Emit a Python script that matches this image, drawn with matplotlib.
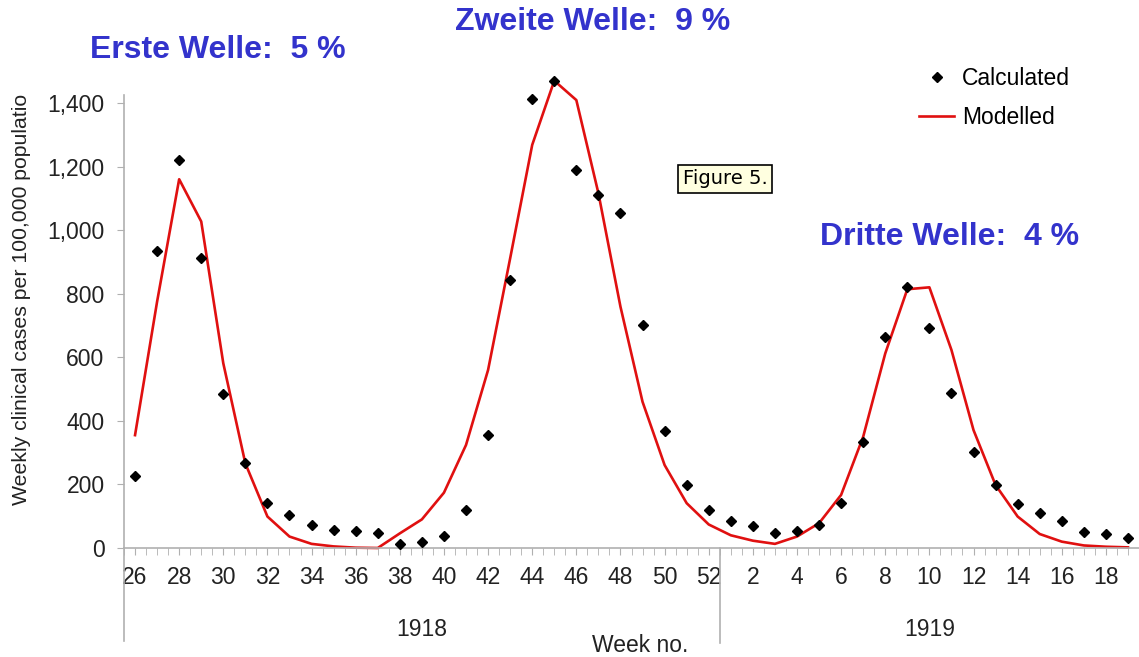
import matplotlib
matplotlib.use("Agg")
from matplotlib import pyplot as plt
from matplotlib.transforms import Bbox, blended_transform_factory

# weekly data, 1918 week 26 .. 1919 week 19
weeks = [26, 27, 28, 29, 30, 31, 32, 33, 34, 35, 36, 37, 38, 39, 40, 41, 42, 43, 44,
         45, 46, 47, 48, 49, 50, 51, 52,
         1, 2, 3, 4, 5, 6, 7, 8, 9, 10, 11, 12, 13, 14, 15, 16, 17, 18, 19]
calculated = [226, 935, 1220, 911, 483, 268, 143, 105, 72, 57, 53, 48, 13, 18, 39, 120,
              356, 843, 1412, 1470, 1189, 1110, 1053, 701, 367, 198, 120,
              86, 68, 47, 55, 72, 143, 332, 665, 820, 693, 487, 301, 197, 137, 109,
              86, 51, 43, 30]
modelled = [355, 775, 1160, 1027, 581, 266, 99, 36, 13, 5, 1, 0, 46, 90, 174, 324,
            560, 911, 1268, 1470, 1409, 1116, 759, 460, 261, 141, 74,
            40, 23, 13, 36, 78, 167, 350, 612, 814, 820, 623, 371, 198, 99, 44,
            20, 8, 4, 2]
years = ["1918", "1919"]
waves = ["Erste Welle:  5 %", "Zweite Welle:  9 %", "Dritte Welle:  4 %"]

plt.rcParams['font.family'] = ['Liberation Sans', 'DejaVu Sans']

W, H = 1139, 657
fig = plt.figure(figsize=(W / 100, H / 100), dpi=100)
ax = fig.add_axes([124 / W, 1 - 548 / H, 1 - 124 / W, (548 - 95) / H])

x = list(range(len(weeks)))
line_mod, = ax.plot(x, modelled, color="#e01010", lw=1.9, clip_on=False,
                    label="Modelled", zorder=2)
line_calc, = ax.plot(x, calculated, "D", color="black", ms=5.2, clip_on=False,
                     label="Calculated", zorder=3)

ax.set_xlim(-0.5, 44.95)
ax.set_ylim(0, 1425)

grey = "#b0b0b0"
for s in ["top", "right"]:
    ax.spines[s].set_visible(False)
ax.spines["left"].set_color(grey)
ax.spines["bottom"].set_color(grey)
ax.spines["left"].set_linewidth(1.2)
ax.spines["bottom"].set_linewidth(1.2)

ax.set_yticks([0, 200, 400, 600, 800, 1000, 1200, 1400])
ax.set_yticklabels(["0", "200", "400", "600", "800", "1,000", "1,200", "1,400"])
ax.tick_params(axis="y", length=5, color=grey, pad=9, labelsize=16.5, labelcolor="#222222")

even = [i for i, w in enumerate(weeks) if w % 2 == 0]
ax.set_xticks(even)
ax.set_xticklabels([str(weeks[i]) for i in even])
ax.set_xticks([i * 0.5 - 0.5 for i in range(2 * len(weeks) + 1)], minor=True)
ax.tick_params(axis="x", which="both", length=5, color=grey, pad=8, labelsize=16.5,
               labelcolor="#222222")

# year group separators
split = weeks.index(1) - 0.5
ax.axvline(-0.5, ymin=-0.205, ymax=0, color=grey, lw=1.2, clip_on=False)
ax.axvline(split, ymin=-0.21, ymax=0, color=grey, lw=1.2, clip_on=False)
tr = blended_transform_factory(ax.transData, ax.transAxes)
ax.text(split / 2 - 0.25, -0.18, years[0], transform=tr, ha="center", va="center",
        fontsize=16.5, color="#222222")
ax.text(36, -0.18, years[1], transform=tr, ha="center", va="center",
        fontsize=16.5, color="#222222")
fig.text(640 / W, 1 - 645 / H, "Week no.", ha="center", va="center", fontsize=16.5,
         color="#222222")

ylab = fig.text(22 / W, 1 - 505 / H, "Weekly clinical cases per 100,000 population",
                rotation=90, ha="center", va="bottom", fontsize=15.3, color="#222222")
ylab.set_clip_box(Bbox([[0, 0], [W, H - 95]]))
ylab.set_clip_on(True)

ax.legend(handles=[line_calc, line_mod], loc="upper left",
          bbox_to_anchor=(908 / W, 1 - 56 / H), bbox_transform=fig.transFigure,
          frameon=False, fontsize=16.5, handlelength=1.5, handletextpad=0.35,
          labelspacing=0.7, borderpad=0)

fig.text(725 / W, 1 - 179 / H, "Figure 5.", ha="center", va="center", fontsize=14,
         family="DejaVu Sans",
         bbox=dict(boxstyle="square,pad=0.25", fc="#ffffe0", ec="black", lw=1.2))

blue = "#3333cc"
fig.text(90 / W, 1 - 50 / H, waves[0], ha="left", va="center", fontsize=23,
         fontweight="bold", color=blue)
fig.text(455 / W, 1 - 22 / H, waves[1], ha="left", va="center", fontsize=23,
         fontweight="bold", color=blue)
fig.text(820 / W, 1 - 237 / H, waves[2], ha="left", va="center", fontsize=23,
         fontweight="bold", color=blue)

fig.savefig("out.png", dpi=100)
